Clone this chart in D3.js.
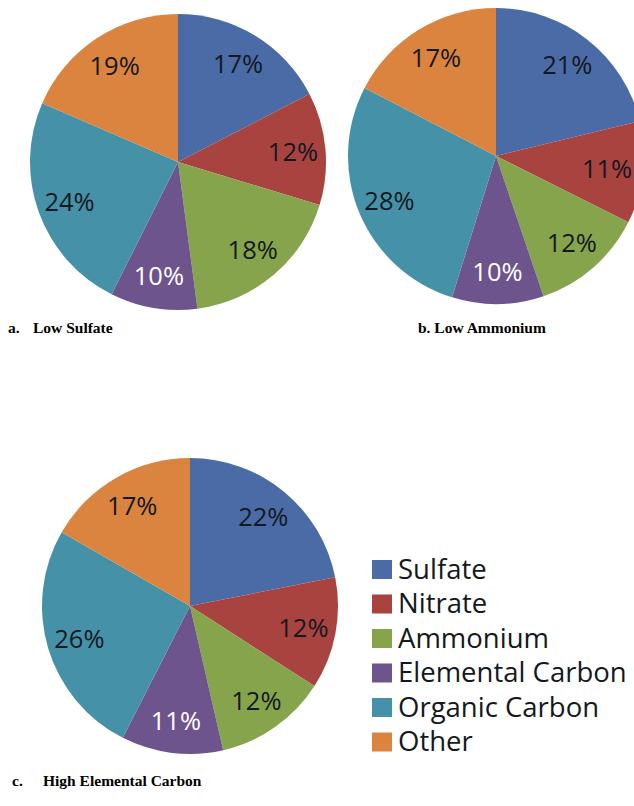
<!DOCTYPE html>
<html>
<head>
<meta charset="utf-8">
<script src="https://cdn.jsdelivr.net/npm/d3@7"></script>
<style>
  body { margin: 0; background: #fff; }
</style>
</head>
<body>
<div id="chart"></div>
<script>
const CATEGORIES = ['Sulfate', 'Nitrate', 'Ammonium', 'Elemental Carbon', 'Organic Carbon', 'Other'];

// slice shares
const LOW_SULFATE = [17.4, 12.3, 18.2, 9.5, 24.1, 18.5];
const LOW_AMMONIUM = [21.2, 11.2, 12.4, 10.0, 27.8, 17.4];
const HIGH_EC = [21.9, 12.2, 12.3, 11.1, 25.8, 16.7];

// the percentages printed on the slices
const LOW_SULFATE_LABELS = ['17%', '12%', '18%', '10%', '24%', '19%'];
const LOW_AMMONIUM_LABELS = ['21%', '11%', '12%', '10%', '28%', '17%'];
const HIGH_EC_LABELS = ['22%', '12%', '12%', '11%', '26%', '17%'];

const CAPTIONS = ['a.', 'Low Sulfate', 'b. Low Ammonium', 'c.', 'High Elemental Carbon'];

const COLORS = {
  slices: ['#4a6ba6', '#a8433f', '#86a44b', '#6e548d', '#4592a8', '#da843f'],
  text:   '#141820',
  white:  '#fff'
};

const W = 634, H = 806;
const R = 148;

let svg = d3.select('#chart').append('svg')
  .attr('width', W)
  .attr('height', H)
  .style('background-color', '#fff');

let color = d3.scaleOrdinal()
  .domain(CATEGORIES)
  .range(COLORS.slices);

let pie = d3.pie()
  .sort(null)
  .value(d => d.value);

let arc = d3.arc()
  .innerRadius(0)
  .outerRadius(R);

let labelArc = d3.arc()
  .innerRadius(R * 0.78)
  .outerRadius(R * 0.78);

function drawPie(cx, cy, values, labels) {
  let data = values.map((v, i) => ({ name: CATEGORIES[i], value: v, label: labels[i] }));
  let g = svg.append('g')
    .attr('transform', `translate(${cx},${cy})`);

  let slices = g.selectAll('.slice')
      .data(pie(data))
    .enter().append('g')
      .attr('class', 'slice');

  slices.append('path')
    .attr('d', arc)
    .style('fill', d => color(d.data.name));

  slices.append('text')
    .text(d => d.data.label)
    .attr('transform', d => {
      let [x, y] = labelArc.centroid(d);
      // keep the label inside the page when the pie runs off the edge
      x = Math.min(x, W - cx - 27);
      return `translate(${x},${y})`;
    })
    .attr('text-anchor', 'middle')
    .attr('dy', '0.36em')
    .attr('font-family', 'Open Sans')
    .attr('font-size', 25.5)
    .style('fill', d => d.data.name === 'Elemental Carbon' ? COLORS.white : COLORS.text);
}

drawPie(178, 162, LOW_SULFATE, LOW_SULFATE_LABELS);
drawPie(496, 156, LOW_AMMONIUM, LOW_AMMONIUM_LABELS);
drawPie(190, 606, HIGH_EC, HIGH_EC_LABELS);

// Captions
let caption = (x, y, text) => svg.append('text')
  .text(text)
  .attr('x', x)
  .attr('y', y)
  .attr('font-family', "'Liberation Serif', 'Times New Roman', serif")
  .attr('font-weight', 'bold')
  .attr('font-size', 15.5)
  .style('fill', '#000');

caption(8, 333, CAPTIONS[0]);
caption(33, 333, CAPTIONS[1]);
caption(418, 333, CAPTIONS[2]);
caption(12, 786, CAPTIONS[3]);
caption(43, 786, CAPTIONS[4]);

// Legend
let legend = svg.selectAll('.legend')
    .data(CATEGORIES)
  .enter().append('g')
    .attr('class', 'legend')
    .attr('transform', (d, i) => `translate(372,${560 + i * 34.5})`);

legend.append('rect')
  .attr('width', 20)
  .attr('height', 19)
  .style('fill', d => color(d));

legend.append('text')
  .text(d => d)
  .attr('x', 26)
  .attr('y', 18.5)
  .attr('font-family', 'Open Sans')
  .attr('font-size', 27.5)
  .style('fill', COLORS.text);
</script>
</body>
</html>
